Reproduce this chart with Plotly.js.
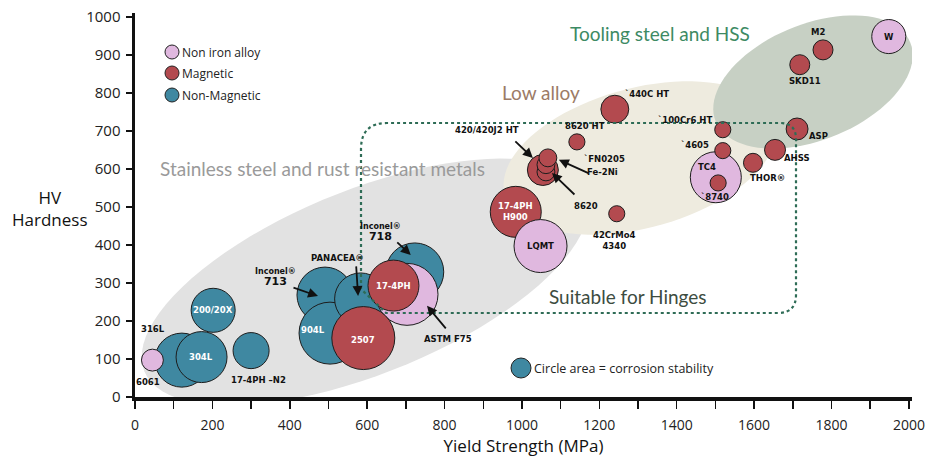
<!DOCTYPE html>
<html><head><meta charset="utf-8">
<script src="https://cdn.plot.ly/plotly-3.0.1.min.js"></script>
<style>html,body{margin:0;padding:0;background:#fff}#chart{width:926px;height:464px}</style>
</head><body><div id="chart"></div>
<script>
// ---------------- data ----------------
const categories = ['Non iron alloy', 'Magnetic', 'Non-Magnetic'];

const nonMagNames = ['316L','304L','200/20X','17-4PH –N2','Inconel® 713','904L','PANACEA®','Inconel® 718'];
const nonMagYield = [121,172,202,300,491,504,583,723];
const nonMagHV    = [97,105,228,122,268,168,258,329];
const nonMagCorrosion = [29.2,26,19.4,13,31.4,38.4,27,33.6];

const nonIronNames = ['6061','ASTM F75','TC4','W','LQMT'];
const nonIronYield = [45,703,1501,1948,1048];
const nonIronHV    = [97,270,578,948,397];
const nonIronCorrosion = [4.8,38.4,26,11.6,28.1];

const magNames = ['2507','17-4PH','17-4PH H900','420/420J2 HT','8620','Fe-2Ni','FN0205','8620 HT','440C HT','42CrMo4 4340','100Cr6 HT','4605','8740','THOR®','AHSS','ASP','SKD11','M2'];
const magYield = [590,668,984,1054,1062,1062,1067,1142,1240,1245,1519,1519,1507,1597,1654,1711,1718,1778];
const magHV    = [155,293,487,597,592,611,629,671,757,482,703,648,563,616,650,705,874,913];
const magCorrosion = [39.7,26,26,9.6,3.2,3.2,3.2,2.6,7.8,2.6,2.6,2.6,2.6,3.6,4.4,4.8,4,4];

const xTicks = [0,200,400,600,800,1000,1200,1400,1600,1800,2000];
const yTicks = [0,100,200,300,400,500,600,700,800,900,1000];

// ---------------- styling / geometry helpers ----------------
const COL = {pink:'#e0b8df', red:'#b34a4f', blue:'#3f88a1'};
const ML=135, MR=14, MT=13, MB=67, W=926, H=464;
const PW=W-ML-MR, PH=H-MT-MB;
const XR=[0,2008], YR=[0,1010];
const dx = px => XR[0]+(px-ML)/PW*(XR[1]-XR[0]);
const dy = py => YR[0]+(H-MB-py)/PH*(YR[1]-YR[0]);
const SIZEREF = 0.02;

function ellipsePath(cx, cy, a, b, deg){
  const t = deg*Math.PI/180; let p='';
  for(let i=0;i<=90;i++){
    const s=i/90*2*Math.PI, ex=a*Math.cos(s), ey=b*Math.sin(s);
    const px=cx+ex*Math.cos(t)+ey*Math.sin(t);
    const py=cy-ex*Math.sin(t)+ey*Math.cos(t);
    p+=(i?'L':'M')+dx(px).toFixed(2)+','+dy(py).toFixed(2);
  }
  return p+'Z';
}
function P(px,py){return dx(px).toFixed(2)+','+dy(py).toFixed(2);}
function hingePath(l,r,t,b){
  return 'M'+P(l,b-24)+' L'+P(l,t+26)+' Q'+P(l,t)+' '+P(l+26,t)+' L'+P(r-16,t)+
    ' Q'+P(r,t)+' '+P(r,t+16)+' L'+P(r,b-18)+' Q'+P(r,b)+' '+P(r-18,b)+' L'+P(l+25,b)+' Z';
}

function bubbleTrace(names, xs, ys, vals, color, name, sel){
  const idx = names.map((n,i)=>i).filter(sel||(()=>true));
  return {
    type:'scatter', mode:'markers', name:name, showlegend:false,
    x: idx.map(i=>xs[i]), y: idx.map(i=>ys[i]), text: idx.map(i=>names[i]),
    hoverinfo:'text+x+y',
    marker:{size: idx.map(i=>vals[i]), sizemode:'area', sizeref:SIZEREF, color:color,
            opacity:1, line:{color:'#1d1d1d', width:1}}
  };
}
const lqmt = nonIronNames.indexOf('LQMT');
const traces = [
  bubbleTrace(nonMagNames, nonMagYield, nonMagHV, nonMagCorrosion, COL.blue, 'Non-Magnetic'),
  bubbleTrace(nonIronNames, nonIronYield, nonIronHV, nonIronCorrosion, COL.pink, 'Non iron alloy', i=>i!==lqmt),
  bubbleTrace(magNames, magYield, magHV, magCorrosion, COL.red, 'Magnetic'),
  bubbleTrace(nonIronNames, nonIronYield, nonIronHV, nonIronCorrosion, COL.pink, 'Non iron alloy', i=>i===lqmt)
];

// point lookup
const allNames = nonMagNames.concat(nonIronNames, magNames);
const allX = nonMagYield.concat(nonIronYield, magYield);
const allY = nonMagHV.concat(nonIronHV, magHV);
function pt(n){const i=allNames.indexOf(n); return [allX[i], allY[i]];}

const LBL_FONT = {family:'DejaVu Sans', size:8.5, color:'#111'};
// label: [point, text, dxpx, dypx, color]
const labels = [
  ['6061','6061',-4,22,'#111'],
  ['316L','316L',-29,-31,'#111'],
  ['304L','304L',-1,0,'#fff'],
  ['200/20X','200/20X',0,0,'#fff'],
  ['17-4PH –N2','17-4PH –N2',7,29,'#111'],
  ['904L','904L',-17,-3,'#fff'],
  ['2507','2507',0,2,'#fff'],
  ['17-4PH','17-4PH',0,0,'#fff'],
  ['17-4PH H900','17-4PH<br>H900',0,0,'#fff'],
  ['LQMT','LQMT',0,0,'#111'],
  ['8620 HT','8620 HT',8,-16,'#111'],
  ['440C HT','`440C HT',32,-15,'#111'],
  ['42CrMo4 4340','42CrMo4<br>4340',-2,27,'#111'],
  ['100Cr6 HT','`100Cr6 HT',-38,-10,'#111'],
  ['4605','`4605',-28,-6,'#111'],
  ['TC4','TC4',-9,-10,'#111'],
  ['8740','`8740',-3,14,'#111'],
  ['THOR®','THOR®',15,15,'#111'],
  ['AHSS','AHSS',22,8,'#111'],
  ['ASP','ASP',21,7,'#111'],
  ['SKD11','SKD11',5,16,'#111'],
  ['M2','M2',-5,-18,'#111'],
  ['W','W',0,0,'#111'],
  ['Inconel® 713','<span style="font-size:8px">Inconel®</span><br><span style="font-size:11px">713</span>',-49,-18,'#111'],
  ['PANACEA®','PANACEA®',-23.5,-41,'#111'],
  ['Inconel® 718','<span style="font-size:8px">Inconel®</span><br><span style="font-size:11px">718</span>',-34,-39,'#111'],
  ['ASTM F75','ASTM F75',41,44.5,'#111'],
  ['420/420J2 HT','420/420J2 HT',-56,-40,'#111'],
  ['FN0205','`FN0205',57,1,'#111'],
  ['Fe-2Ni','Fe-2Ni',57,7,'#111'],
  ['8620','8620',40,34,'#111']
];
// arrows: [point, tip dx, tip dy, tail ax, tail ay]
const arrows = [
  ['Inconel® 713',-7,1,-26,-9],
  ['PANACEA®',-2.5,-3,-2,-31],
  ['Inconel® 718',-4,-17,-15,-14],
  ['ASTM F75',20,11.5,20,24],
  ['420/420J2 HT',-10,-12,-19,-18],
  ['FN0205',11,2,31,14],
  ['8620',6,1,24,23]
];

const annotations = [];
labels.forEach(l=>{
  const p=pt(l[0]);
  annotations.push({x:p[0], y:p[1], xref:'x', yref:'y', text:'<b>'+l[1]+'</b>', showarrow:false,
    xshift:l[2], yshift:-l[3], font:Object.assign({}, LBL_FONT, {color:l[4]}), align:'center'});
});
arrows.forEach(a=>{
  const p=pt(a[0]);
  annotations.push({x:p[0], y:p[1], xref:'x', yref:'y', text:'', showarrow:true,
    xshift:a[1], yshift:-a[2], ax:a[3], ay:a[4], arrowhead:2, arrowsize:1.1, arrowwidth:1.8,
    arrowcolor:'#111', standoff:0, startstandoff:0});
});
function txt(text, px, py, size, color, family, xanchor){
  annotations.push({x:dx(px), y:dy(py), xref:'x', yref:'y', text:text, showarrow:false,
    xanchor:xanchor||'center', yanchor:'middle', font:{family:family||'Lato', size:size, color:color}});
}
txt('Stainless steel and rust resistant metals', 322, 168, 19, '#9a9a9a');
txt('Low alloy', 541, 92, 19, '#9c7b66');
txt('Tooling steel and HSS', 660, 33, 19, '#3d8a63');
txt('Suitable for Hinges', 628, 296, 19, '#3d4c3f');
txt('Circle area = corrosion stability', 532, 368, 12.5, '#222', 'Open Sans', 'left');
// category legend
const legendCols=[COL.pink, COL.red, COL.blue], legendY=[52,73,95];
categories.forEach((c,i)=>txt(c, 180, legendY[i], 12, '#222', 'Open Sans', 'left'));
// y title
annotations.push({x:(50-ML)/PW, y:(H-MB-208)/PH, xref:'paper', yref:'paper', text:'HV<br>Hardness',
  xanchor:'center', yanchor:'middle',
  showarrow:false, font:{family:'Open Sans', size:17, color:'#111'}, align:'center'});

const shapes = [
  {type:'path', path:ellipsePath(365,282,238,92,22), fillcolor:'#e2e2e2', line:{width:0}, layer:'below'},
  {type:'path', path:ellipsePath(640,158,140,70,15), fillcolor:'#eeebdf', line:{width:0}, layer:'below'},
  {type:'path', path:ellipsePath(813,82,105,58,22), fillcolor:'#c7d0c4', line:{width:0}, layer:'below'},
  {type:'path', path:hingePath(361,796,123,313), line:{color:'#2e6c56', width:2.2, dash:'dot'}, layer:'above'}
];
legendCols.forEach((c,i)=>shapes.push({type:'circle', xref:'x', yref:'y', xsizemode:'pixel', ysizemode:'pixel',
  xanchor:dx(172), yanchor:dy(legendY[i]), x0:-7, x1:7, y0:-7, y1:7, fillcolor:c, line:{color:'#222', width:1}, layer:'above'}));
shapes.push({type:'circle', xref:'x', yref:'y', xsizemode:'pixel', ysizemode:'pixel',
  xanchor:dx(521), yanchor:dy(368), x0:-10, x1:10, y0:-10, y1:10, fillcolor:COL.blue, line:{color:'#222', width:1}, layer:'above'});

const layout = {
  width:W, height:H, margin:{l:ML, r:MR, t:MT, b:MB, pad:0},
  paper_bgcolor:'#fff', plot_bgcolor:'#fff', showlegend:false,
  font:{family:'Open Sans', color:'#222'},
  xaxis:{range:XR, tickvals:xTicks, ticks:'outside', ticklen:8, tickwidth:1.5, tickcolor:'#111',
    showline:true, linewidth:4, linecolor:'#111', showgrid:false, zeroline:false,
    minor:{dtick:100, tick0:0, ticks:'outside', ticklen:8, tickwidth:1.5, tickcolor:'#111', showgrid:false},
    tickfont:{family:'Open Sans', size:14, color:'#222'}, ticklabelstandoff:4,
    title:{text:'Yield Strength (MPa)', font:{family:'Open Sans', size:17, color:'#111'}, standoff:8}},
  yaxis:{range:YR, tickvals:yTicks, ticks:'outside', ticklen:6, tickwidth:1.5, tickcolor:'#111',
    showline:true, linewidth:3.5, linecolor:'#111', showgrid:false, zeroline:false,
    tickfont:{family:'Open Sans', size:15, color:'#222'}, ticklabelstandoff:2},
  shapes:shapes, annotations:annotations
};
Plotly.newPlot('chart', traces, layout, {displayModeBar:false, staticPlot:true});
</script>
</body></html>
